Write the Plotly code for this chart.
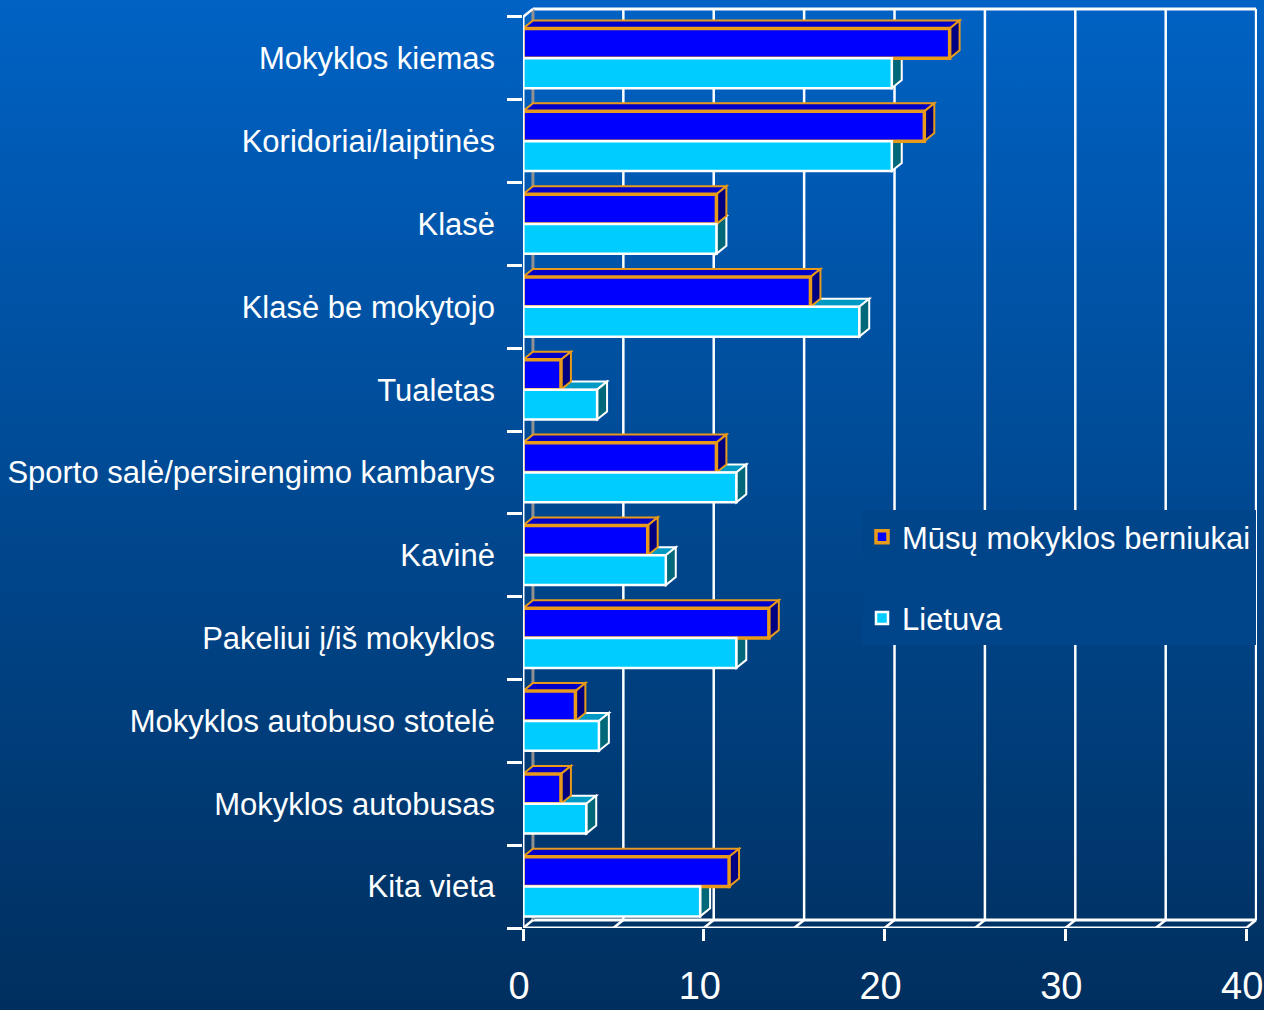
import base64
import plotly.graph_objects as go

# ---------------- data ----------------
categories = [
    "Mokyklos kiemas",
    "Koridoriai/laiptinės",
    "Klasė",
    "Klasė be mokytojo",
    "Tualetas",
    "Sporto salė/persirengimo kambarys",
    "Kavinė",
    "Pakeliui į/iš mokyklos",
    "Mokyklos autobuso stotelė",
    "Mokyklos autobusas",
    "Kita vieta",
]
boys = [23.6, 22.2, 10.7, 15.9, 2.1, 10.7, 6.9, 13.6, 2.9, 2.1, 11.4]
lithuania = [20.4, 20.4, 10.7, 18.6, 4.1, 11.8, 7.9, 11.8, 4.2, 3.5, 9.8]
series_names = ["Mūsų mokyklos berniukai", "Lietuva"]
x_tick_vals = [0, 10, 20, 30, 40]
x_max = 40
grid_step = 5

# ---------------- style ----------------
FONT = "Liberation Sans, Arial, sans-serif"
DARK = "#0000ff"
DARK_TOP = "#0000c8"
DARK_SIDE = "#000080"
ORANGE = "#e89a1a"
CYAN = "#00ccff"
CYAN_TOP = "#0099c4"
CYAN_SIDE = "#006878"
WHITE = "#ffffff"
BW = 0.36          # bar thickness (category units)
DX = 0.55          # depth offset in x units
DY = 0.097         # depth offset in category units

idx = list(range(len(categories)))
n = len(categories)
y_lo, y_hi = -0.5, n - 0.5

fig = go.Figure()
fig.add_trace(go.Bar(
    y=idx, x=boys, orientation="h", base=0, width=BW, offset=-BW,
    name=series_names[0], legendgroup="a",
    marker=dict(color=DARK, line=dict(color=ORANGE, width=3.5)),
))
fig.add_trace(go.Bar(
    y=idx, x=lithuania, orientation="h", base=0, width=BW, offset=0,
    name=series_names[1], legendgroup="b",
    marker=dict(color=CYAN, line=dict(color=WHITE, width=2.5)),
))

shapes = []
k = grid_step
while k <= x_max:
    shapes.append(dict(type="line", xref="x", yref="y", layer="below",
                       x0=k + DX, x1=k + DX, y0=y_lo - DY, y1=y_hi - DY,
                       line=dict(color=WHITE, width=2.5)))
    shapes.append(dict(type="line", xref="x", yref="y", layer="below",
                       x0=k, x1=k + DX, y0=y_hi, y1=y_hi - DY,
                       line=dict(color=WHITE, width=2.5)))
    k += grid_step
shapes += [
    dict(type="line", xref="x", yref="y", layer="below", x0=DX, x1=x_max + DX,
         y0=y_lo - DY, y1=y_lo - DY, line=dict(color=WHITE, width=3)),
    dict(type="line", xref="x", yref="y", layer="below", x0=DX, x1=x_max + DX,
         y0=y_hi - DY, y1=y_hi - DY, line=dict(color=WHITE, width=3)),
    dict(type="line", xref="x", yref="y", layer="below", x0=DX, x1=DX,
         y0=y_lo - DY, y1=y_hi - DY, line=dict(color="#909090", width=3)),
    dict(type="line", xref="x", yref="y", layer="below", x0=0, x1=DX,
         y0=y_lo, y1=y_lo - DY, line=dict(color=WHITE, width=2.5)),
    dict(type="line", xref="x", yref="y", layer="below", x0=0, x1=DX,
         y0=y_hi, y1=y_hi - DY, line=dict(color=WHITE, width=2.5)),
    dict(type="line", xref="x", yref="y", layer="above", x0=0, x1=0,
         y0=y_lo, y1=y_hi, line=dict(color=WHITE, width=3)),
    dict(type="line", xref="x", yref="y", layer="above", x0=0, x1=x_max,
         y0=y_hi, y1=y_hi, line=dict(color=WHITE, width=3)),
]


def top_face(x1, y, fill, edge):
    path = f"M 0,{y} L {x1},{y} L {x1 + DX},{y - DY} L {DX},{y - DY} Z"
    return dict(type="path", xref="x", yref="y", layer="between", path=path,
                fillcolor=fill, line=dict(color=edge, width=2))


def side_face(x1, yt, yb, fill, edge):
    path = (f"M {x1},{yt} L {x1 + DX},{yt - DY} L {x1 + DX},{yb - DY} "
            f"L {x1},{yb} Z")
    return dict(type="path", xref="x", yref="y", layer="between", path=path,
                fillcolor=fill, line=dict(color=edge, width=2))


for i, v in zip(idx, lithuania):
    shapes.append(top_face(v, i, CYAN_TOP, WHITE))
    shapes.append(side_face(v, i, i + BW, CYAN_SIDE, WHITE))
for i, v in zip(idx, boys):
    shapes.append(top_face(v, i - BW, DARK_TOP, ORANGE))
    shapes.append(side_face(v, i - BW, i, DARK_SIDE, ORANGE))

svg = ('<svg xmlns="http://www.w3.org/2000/svg" width="10" height="100" '
       'preserveAspectRatio="none"><defs><linearGradient id="g" x1="0" y1="0" '
       'x2="0" y2="1"><stop offset="0" stop-color="#0062c4"/>'
       '<stop offset="1" stop-color="#002f5e"/></linearGradient></defs>'
       '<rect width="10" height="100" fill="url(#g)"/></svg>')
src = "data:image/svg+xml;base64," + base64.b64encode(svg.encode()).decode()

W, H = 1264, 1010
ML, MR, MT, MB = 523, 7, 7, 82
pw, ph = W - ML - MR, H - MT - MB

fig.update_layout(
    width=W, height=H,
    margin=dict(l=ML, r=MR, t=MT, b=MB, autoexpand=False),
    paper_bgcolor="#004890", plot_bgcolor="rgba(0,0,0,0)",
    barmode="overlay",
    shapes=shapes,
    images=[dict(source=src, xref="paper", yref="paper",
                 x=-ML / pw, y=1 + MT / ph, sizex=W / pw, sizey=H / ph,
                 xanchor="left", yanchor="top", sizing="stretch",
                 layer="below")],
    font=dict(family=FONT, color=WHITE),
    showlegend=True,
    legend=dict(x=(862 - ML) / pw, y=(928 - 510) / ph, xanchor="left",
                yanchor="top", bgcolor="rgb(0,69,138)", borderwidth=0,
                font=dict(size=31, family=FONT, color=WHITE),
                traceorder="grouped", tracegroupgap=38,
                itemwidth=30),
    xaxis=dict(range=[0, x_max + 0.6], tickvals=x_tick_vals,
               ticks="outside", ticklen=12, tickwidth=3, tickcolor=WHITE,
               showgrid=False, zeroline=False, showline=False,
               tickfont=dict(size=38, family=FONT, color=WHITE),
               ticklabelstandoff=12, ticklabelshift=-4,
               ticklabeloverflow="allow"),
    yaxis=dict(range=[y_hi, y_lo - 0.12], tickvals=idx, ticktext=categories,
               ticks="", showgrid=False, zeroline=False, showline=False,
               tickfont=dict(size=31, family=FONT, color=WHITE),
               ticklabelstandoff=27,
               minor=dict(tick0=0.5, dtick=1, ticks="outside", ticklen=15,
                          tickwidth=3, tickcolor=WHITE, showgrid=False)),
)

fig.write_html("out.html",
               config={"displayModeBar": False},
               post_script="document.body.style.margin='0';"
                           "document.body.style.overflow='hidden';")
